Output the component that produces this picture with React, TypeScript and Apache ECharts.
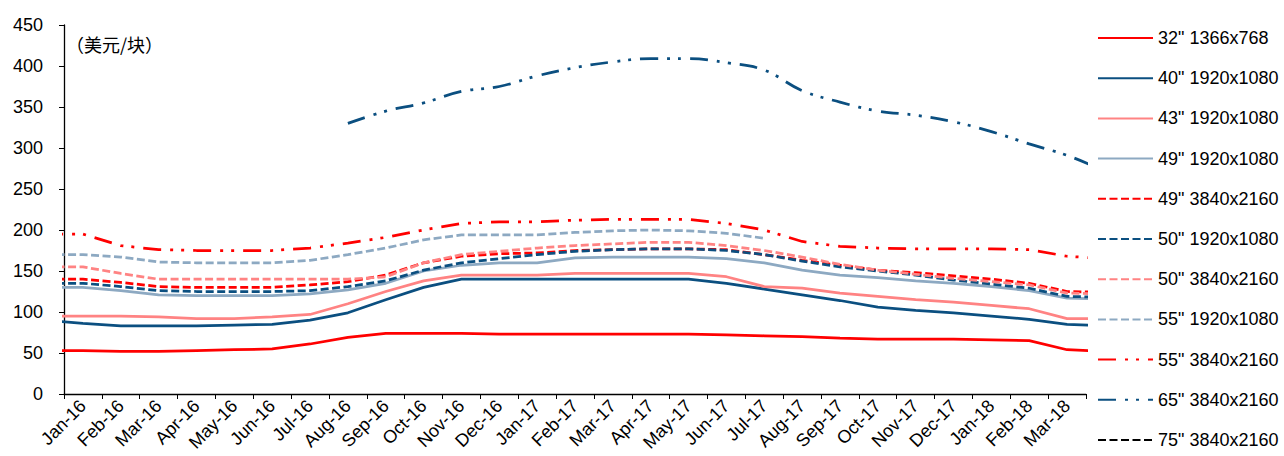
import React, { useEffect, useRef } from 'react';
import * as echarts from 'echarts';

// Month categories. The first (Dec-15) and last (Apr-18) points lie just outside
// the plotted range: their lines are cut off at the plot edges, as in the source.
const allMonths = [
  'Dec-15',
  'Jan-16', 'Feb-16', 'Mar-16', 'Apr-16', 'May-16', 'Jun-16', 'Jul-16', 'Aug-16', 'Sep-16',
  'Oct-16', 'Nov-16', 'Dec-16', 'Jan-17', 'Feb-17', 'Mar-17', 'Apr-17', 'May-17', 'Jun-17',
  'Jul-17', 'Aug-17', 'Sep-17', 'Oct-17', 'Nov-17', 'Dec-17', 'Jan-18', 'Feb-18', 'Mar-18',
  'Apr-18',
];
const visibleMonths = allMonths.slice(1, allMonths.length - 1);

const yTicks = { min: 0, max: 450, interval: 50 };
const unitLabel = '（美元/块）';

const s32_1366 = [53, 53, 52, 52, 53, 54, 55, 61, 69, 74, 74, 74, 73, 73, 73, 73, 73, 73, 72, 71, 70, 68, 67, 67, 67, 66, 65, 54, 52];
const s40_1920 = [90, 86, 83, 83, 83, 84, 85, 90, 99, 115, 130, 140, 140, 140, 140, 140, 140, 140, 135, 128, 121, 114, 106, 102, 99, 95, 91, 85, 83];
const s43_1920 = [95, 95, 95, 94, 92, 92, 94, 97, 110, 125, 138, 145, 145, 145, 147, 147, 147, 147, 143, 131, 129, 123, 119, 115, 112, 108, 104, 92, 92];
const s49_1920 = [130, 130, 126, 121, 120, 120, 120, 122, 127, 135, 150, 157, 160, 160, 166, 167, 167, 167, 165, 160, 151, 145, 142, 138, 135, 131, 126, 117, 116];
const s49_3840 = [140, 140, 136, 131, 130, 130, 130, 133, 137, 145, 160, 168, 171, 172, 175, 176, 177, 177, 176, 170, 163, 157, 151, 148, 144, 140, 135, 125, 124];
const s50_1920 = [135, 135, 131, 126, 125, 125, 125, 126, 131, 138, 151, 160, 165, 170, 174, 176, 177, 177, 175, 170, 162, 155, 150, 145, 139, 134, 129, 119, 118];
const s50_3840 = [155, 155, 147, 140, 140, 140, 140, 140, 140, 143, 160, 170, 174, 178, 181, 183, 185, 185, 181, 175, 167, 158, 151, 146, 141, 137, 133, 123, 122];
const s55_1920 = [170, 170, 167, 161, 160, 160, 160, 163, 170, 178, 188, 194, 194, 194, 197, 199, 200, 199, 196, 190, null, null, null, null, null, null, null, null, null];
const s55_3840 = [195, 195, 181, 176, 175, 175, 175, 178, 184, 191, 200, 208, 210, 210, 212, 213, 213, 213, 208, 200, 186, 180, 178, 177, 177, 177, 176, 168, 165];
const s65_3840 = [null, null, null, null, null, null, null, null, 330, 345, 355, 369, 375, 388, 398, 405, 409, 409, 404, 395, 370, 356, 345, 340, 332, 320, 305, 291, 272];
const s75_3840: (number | null)[] = [];

const RED = '#FF0000';
const NAVY = '#0B4F80';
const PINK = '#FF8383';
const STEEL = '#8DA9C2';
const BLACK = '#000000';

const DASH = [8, 3.5];
const DASH_DOT_DOT = [18, 9, 3, 8, 3, 9];

const seriesDefs = [
  { name: '32" 1366x768', data: s32_1366, color: RED, dash: 'solid' as any, smooth: false },
  { name: '40" 1920x1080', data: s40_1920, color: NAVY, dash: 'solid' as any, smooth: false },
  { name: '43" 1920x1080', data: s43_1920, color: PINK, dash: 'solid' as any, smooth: false },
  { name: '49" 1920x1080', data: s49_1920, color: STEEL, dash: 'solid' as any, smooth: false },
  { name: '49" 3840x2160', data: s49_3840, color: RED, dash: DASH, smooth: false },
  { name: '50" 1920x1080', data: s50_1920, color: NAVY, dash: DASH, smooth: false },
  { name: '50" 3840x2160', data: s50_3840, color: PINK, dash: DASH, smooth: false },
  { name: '55" 1920x1080', data: s55_1920, color: STEEL, dash: DASH, smooth: false },
  { name: '55" 3840x2160', data: s55_3840, color: RED, dash: DASH_DOT_DOT, smooth: false },
  { name: '65" 3840x2160', data: s65_3840, color: NAVY, dash: DASH_DOT_DOT, smooth: 0.4 },
  { name: '75" 3840x2160', data: s75_3840, color: BLACK, dash: DASH, smooth: false },
];

const FONT = '"Liberation Sans", Arial, sans-serif';

function buildOption() {
  const series = seriesDefs.map((d) => ({
    name: d.name,
    type: 'line',
    xAxisIndex: 1,
    yAxisIndex: 0,
    showSymbol: false,
    symbol: 'none',
    smooth: d.smooth,
    clip: true,
    color: d.color,
    lineStyle: { color: d.color, width: 2.75, type: d.dash, cap: 'butt' },
    data: d.data
      .map((v, i) => (v == null ? null : [i - 1, v]))
      .filter((p) => p !== null),
  }));

  return {
    animation: false,
    backgroundColor: '#ffffff',
    textStyle: { fontFamily: FONT },
    grid: { left: 64, top: 25, width: 1022, height: 369, containLabel: false },
    legend: {
      orient: 'vertical',
      left: 1097,
      top: 29,
      bottom: 0,
      padding: 0,
      itemWidth: 55,
      itemHeight: 14,
      itemGap: 22.2,
      selectedMode: false,
      itemStyle: { opacity: 0 },
      textStyle: { fontFamily: FONT, fontSize: 18, color: '#000' },
      data: seriesDefs.map((d) => d.name),
    },
    xAxis: [
      {
        type: 'category',
        data: visibleMonths,
        boundaryGap: true,
        axisLine: { show: true, onZero: false, lineStyle: { color: '#000', width: 1.3 } },
        axisTick: { show: true, interval: 0, length: 5, lineStyle: { color: '#000' } },
        axisLabel: {
          interval: 0,
          rotate: 45,
          margin: 9,
          fontFamily: FONT,
          fontSize: 18,
          color: '#000',
        },
        splitLine: { show: false },
      },
      {
        type: 'value',
        min: -0.5,
        max: visibleMonths.length - 0.5,
        show: false,
        axisLine: { onZero: false },
        splitLine: { show: false },
      },
    ],
    yAxis: {
      type: 'value',
      min: yTicks.min,
      max: yTicks.max,
      interval: yTicks.interval,
      axisLine: { show: true, onZero: false, lineStyle: { color: '#000', width: 1.3 } },
      axisTick: { show: true, length: 5, lineStyle: { color: '#000' } },
      axisLabel: { margin: 21, fontFamily: FONT, fontSize: 18, color: '#000' },
      splitLine: { show: false },
    },
    graphic: [
      {
        type: 'text',
        left: 66,
        top: 35,
        style: {
          text: unitLabel,
          font: '18px "Noto Sans CJK SC", sans-serif',
          fill: '#000',
        },
      },
    ],
    series,
  };
}

export default function App() {
  const ref = useRef<HTMLDivElement>(null);
  useEffect(() => {
    if (!ref.current) return;
    const chart = echarts.init(ref.current, null, { renderer: 'svg' });
    chart.setOption(buildOption() as any);
    return () => chart.dispose();
  }, []);
  return (
    <div
      ref={ref}
      style={{ position: 'fixed', left: 0, top: 0, width: 1284, height: 456, background: '#fff' }}
    />
  );
}
